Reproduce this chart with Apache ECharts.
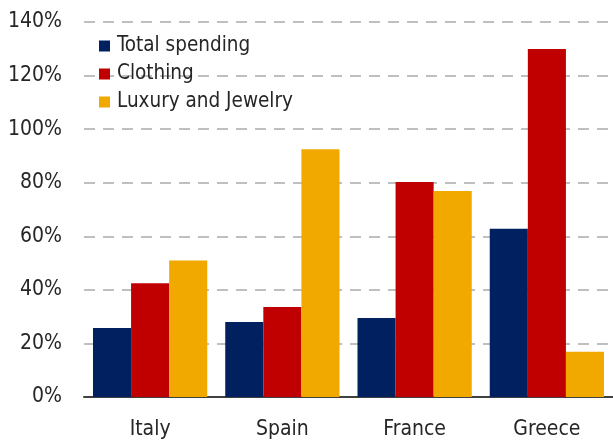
<!DOCTYPE html>
<html><head><meta charset="utf-8">
<script src="https://cdn.jsdelivr.net/npm/echarts@6/dist/echarts.min.js"></script>
<style>html,body{margin:0;padding:0;background:#fff}#c{width:613px;height:440px}</style>
</head><body><div id="c"></div>
<script>
const categories = ['Italy', 'Spain', 'France', 'Greece'];
const totalSpending = [25.8, 28.0, 29.5, 62.8];
const clothing = [42.5, 33.6, 80.3, 129.9];
const luxuryJewelry = [51.0, 92.5, 76.9, 16.9];
const seriesNames = ['Total spending', 'Clothing', 'Luxury and Jewelry'];
const yTicks = [0, 20, 40, 60, 80, 100, 120, 140];

const FONT = "'Liberation Sans Narrow', 'DejaVu Sans Condensed', sans-serif";
const chart = echarts.init(document.getElementById('c'), null, {renderer: 'canvas'});
chart.setOption({
  backgroundColor: '#fff',
  animation: false,
  grid: {left: 84, right: 0, top: 22, bottom: 40, containLabel: false},
  legend: {
    orient: 'vertical', left: 94, top: 30,
    itemWidth: 11, itemHeight: 11, itemGap: 6,
    icon: 'rect',
    textStyle: {fontFamily: FONT, fontSize: 20.5, color: '#262626', lineHeight: 22, padding: [0,0,0,2]},
    data: seriesNames
  },
  xAxis: {
    type: 'category', data: categories,
    axisLine: {show: true, lineStyle: {color: '#404040', width: 2}},
    axisTick: {show: false},
    axisLabel: {fontFamily: FONT, fontSize: 21, color: '#262626', margin: 22}
  },
  yAxis: {
    type: 'value', min: yTicks[0], max: yTicks[yTicks.length-1], interval: 20,
    axisLine: {show: false}, axisTick: {show: false},
    axisLabel: {fontFamily: FONT, fontSize: 21, color: '#262626', margin: 22, formatter: v => v + '%'},
    splitLine: {show: true, lineStyle: {color: '#bfbfbf', width: 2, type: [11, 8]}}
  },
  series: [
    {name: seriesNames[0], type: 'bar', data: totalSpending, itemStyle: {color: '#00205F'}, barGap: '0%', barCategoryGap: '13.6%'},
    {name: seriesNames[1], type: 'bar', data: clothing, itemStyle: {color: '#C00000'}, barGap: '0%', barCategoryGap: '13.6%'},
    {name: seriesNames[2], type: 'bar', data: luxuryJewelry, itemStyle: {color: '#F1A900'}, barGap: '0%', barCategoryGap: '13.6%'}
  ]
});
</script></body></html>
